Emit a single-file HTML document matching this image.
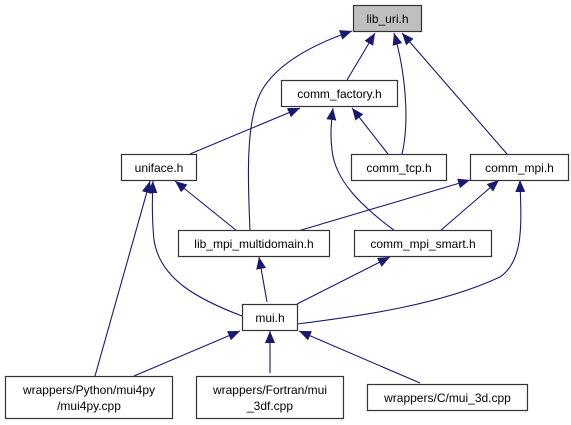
<!DOCTYPE html>
<html><head><meta charset="utf-8"><style>
html,body{margin:0;padding:0;background:#fff;}
svg{display:block;}
text{font-family:"Liberation Sans",sans-serif;font-size:12px;fill:#000;}
</style></head><body>
<svg width="571" height="425" viewBox="0 0 571 425" xmlns="http://www.w3.org/2000/svg">
<defs>
<marker id="a" markerWidth="12" markerHeight="10" refX="12" refY="5" orient="auto" markerUnits="userSpaceOnUse">
<path d="M0,0 L12,5 L0,10 Z" fill="#191970"/>
</marker>
</defs>
<g fill="none" stroke="#191970" stroke-width="1.1" marker-end="url(#a)">
<path d="M347,80 L375,33"/>
<path d="M250,231 C248,180 245,120 262,90 C280,60 320,42 352,31"/>
<path d="M402,154 C410,120 405,70 394,33"/>
<path d="M507,154 L402,33"/>
<path d="M190,154 L300,108"/>
<path d="M395,231 C360,205 335,180 332,150 C330,135 331,122 333,108"/>
<path d="M388,154 L352,108"/>
<path d="M237,231 L175,181"/>
<path d="M242,316 C200,300 160,280 154,240 C152,220 152,200 153,181"/>
<path d="M95,376 L150,181"/>
<path d="M298,231 L470,180"/>
<path d="M440,231 L499,180"/>
<path d="M297,324 C360,316 440,305 500,277 C525,260 521,220 520,180"/>
<path d="M267,302 L259,257"/>
<path d="M297,304 L390,257"/>
<path d="M134,376 L240,331"/>
<path d="M270,373 L270,331"/>
<path d="M420,383 L299,331"/>
</g>
<g stroke="#333" stroke-width="1.2">
<rect x="353.5" y="5.5" width="68" height="26" fill="#bfbfbf"/>
<rect x="281.5" y="80.5" width="116" height="26" fill="#fff"/>
<rect x="121.5" y="154.5" width="75" height="26" fill="#fff"/>
<rect x="351.5" y="154.5" width="95" height="26" fill="#fff"/>
<rect x="470.5" y="154.5" width="98" height="26" fill="#fff"/>
<rect x="178.5" y="230.5" width="151" height="26" fill="#fff"/>
<rect x="354.5" y="230.5" width="137" height="26" fill="#fff"/>
<rect x="242.5" y="304.5" width="55" height="26" fill="#fff"/>
<rect x="5.5" y="376.5" width="167" height="42" fill="#fff"/>
<rect x="196.5" y="376.5" width="147" height="42" fill="#fff"/>
<rect x="367.5" y="384.5" width="160" height="26" fill="#fff"/>
</g>
<g text-anchor="middle">
<text x="387.5" y="23">lib_uri.h</text>
<text x="339.5" y="98">comm_factory.h</text>
<text x="159" y="172">uniface.h</text>
<text x="399" y="172">comm_tcp.h</text>
<text x="519.5" y="172">comm_mpi.h</text>
<text x="254" y="248">lib_mpi_multidomain.h</text>
<text x="423" y="248">comm_mpi_smart.h</text>
<text x="270" y="322">mui.h</text>
<text x="89" y="394">wrappers/Python/mui4py</text>
<text x="89" y="410">/mui4py.cpp</text>
<text x="270" y="394">wrappers/Fortran/mui</text>
<text x="270" y="410">_3df.cpp</text>
<text x="447.5" y="402">wrappers/C/mui_3d.cpp</text>
</g>
</svg>
</body></html>
